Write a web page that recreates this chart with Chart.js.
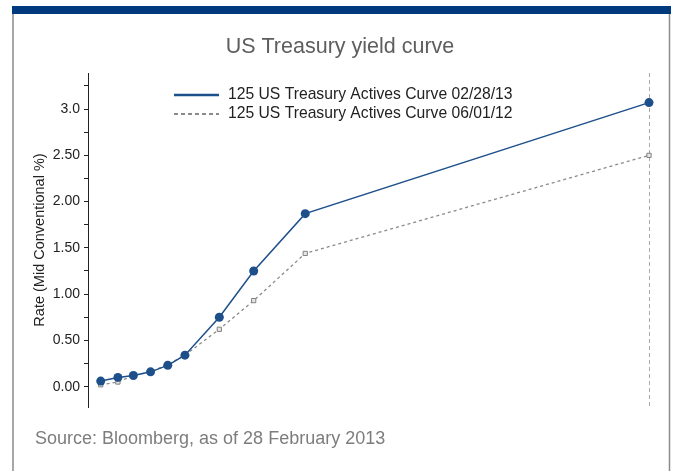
<!DOCTYPE html>
<html>
<head>
<meta charset="utf-8">
<script src="https://cdn.jsdelivr.net/npm/chart.js@4/dist/chart.umd.min.js"></script>
<style>
  html, body { margin: 0; padding: 0; background: #fff; }
  #wrap { width: 674px; height: 471px; position: relative; }
</style>
</head>
<body>
<div id="wrap"><canvas id="curveChart" width="674" height="471"></canvas></div>
<script>
// tenors and where each one sits on the x axis (years; bills spread at the short end)
const tenors = ['1M', '3M', '6M', '1Y', '2Y', '3Y', '5Y', '7Y', '10Y', '30Y'];
const tenorPos = [-1.9, -0.9, 0, 1, 2, 3, 5, 7, 10, 30];

const curveFeb13 = [0.06, 0.10, 0.12, 0.16, 0.23, 0.34, 0.75, 1.25, 1.87, 3.07];
const curveJun12 = [0.02, 0.05, 0.12, 0.16, 0.24, 0.34, 0.62, 0.93, 1.44, 2.50];

const yTickValues = [0, 0.5, 1, 1.5, 2, 2.5, 3];
const yTickLabels = ['0.00', '0.50', '1.00', '1.50', '2.00', '2.50', '3.0'];

const seriesNames = [
  '125 US Treasury Actives Curve 02/28/13',
  '125 US Treasury Actives Curve 06/01/12'
];

const FONT = '"Liberation Sans", Arial, Helvetica, sans-serif';
const BLUE = '#1d4f8b';
const GREY = '#8a8a8a';

function toPoints(vals) {
  return vals.map((v, i) => ({ x: tenorPos[i], y: v }));
}

// frame, header bar, title, legend and source line
const decorations = {
  id: 'decorations',
  beforeDraw(chart) {
    const ctx = chart.ctx;
    ctx.save();
    ctx.fillStyle = '#fff';
    ctx.fillRect(0, 0, chart.width, chart.height);
    ctx.fillStyle = '#003a7e';
    ctx.fillRect(12, 6, 659, 8);
    ctx.strokeStyle = '#8c8c8c';
    ctx.lineWidth = 1.5;
    ctx.beginPath();
    ctx.moveTo(13, 14); ctx.lineTo(13, chart.height);
    ctx.moveTo(669.5, 14); ctx.lineTo(669.5, chart.height);
    ctx.stroke();

    ctx.fillStyle = '#5e5e5e';
    ctx.font = '21.5px ' + FONT;
    ctx.textAlign = 'center';
    ctx.textBaseline = 'middle';
    ctx.fillText('US Treasury yield curve', 340, 47);

    ctx.fillStyle = '#7d7d7d';
    ctx.font = '18px ' + FONT;
    ctx.textAlign = 'left';
    ctx.fillText('Source: Bloomberg, as of 28 February 2013', 35, 439);
    ctx.restore();
  },
  afterDatasetsDraw(chart) {
    const ctx = chart.ctx;
    ctx.save();
    ctx.font = '15.7px ' + FONT;
    ctx.textAlign = 'left';
    ctx.textBaseline = 'middle';
    chart.data.datasets.forEach((ds, i) => {
      const y = 95 + i * 19;
      ctx.strokeStyle = ds.borderColor;
      ctx.lineWidth = i === 0 ? 2.5 : 2;
      ctx.setLineDash(i === 0 ? [] : [4, 3]);
      ctx.beginPath();
      ctx.moveTo(174, y);
      ctx.lineTo(219, y);
      ctx.stroke();
      ctx.setLineDash([]);
      ctx.fillStyle = '#222';
      ctx.fillText(ds.label, 228, y);
    });
    ctx.restore();
  }
};

new Chart(document.getElementById('curveChart'), {
  type: 'line',
  data: {
    datasets: [
      {
        label: seriesNames[0],
        data: toPoints(curveFeb13),
        borderColor: BLUE,
        backgroundColor: BLUE,
        borderWidth: 1.5,
        pointRadius: 4.5,
        pointStyle: 'circle',
        pointBorderWidth: 0,
        clip: false,
        order: 0
      },
      {
        label: seriesNames[1],
        data: toPoints(curveJun12),
        borderColor: GREY,
        backgroundColor: '#e6e6e6',
        borderWidth: 1.3,
        borderDash: [3, 3],
        pointRadius: 3,
        pointStyle: 'rect',
        pointBorderColor: '#808080',
        pointBorderWidth: 1,
        clip: false,
        order: 1
      }
    ]
  },
  options: {
    responsive: false,
    animation: false,
    layout: { padding: { left: 14, right: 25, top: 73, bottom: 64 } },
    plugins: {
      legend: { display: false },
      tooltip: { enabled: false }
    },
    scales: {
      x: {
        type: 'linear',
        min: -2.64,
        max: 30,
        // only the 30Y guide line is drawn
        afterBuildTicks(scale) { scale.ticks = [{ value: 30 }]; },
        afterFit(scale) { scale.height = 0; },
        ticks: { display: false },
        border: { display: false, dash: [4, 3] },
        grid: {
          drawTicks: false,
          color: '#aaaaaa',
          lineWidth: 1
        }
      },
      y: {
        type: 'linear',
        min: -0.22,
        max: 3.39,
        afterFit(scale) { scale.width = 74; },
        ticks: {
          stepSize: 0.25,
          includeBounds: false,
          color: '#222',
          padding: 4,
          font: { family: FONT, size: 14 },
          callback(v) {
            const k = yTickValues.findIndex(t => Math.abs(t - v) < 1e-6);
            return k >= 0 ? yTickLabels[k] : '';
          }
        },
        grid: {
          drawOnChartArea: false,
          tickLength: 4,
          color: '#222'
        },
        border: { color: '#222', width: 1 },
        title: {
          display: true,
          text: 'Rate (Mid Conventional %)',
          color: '#222',
          font: { family: FONT, size: 14.5 },
          padding: { top: 17, bottom: 0 }
        }
      }
    }
  },
  plugins: [decorations]
});
</script>
</body>
</html>
